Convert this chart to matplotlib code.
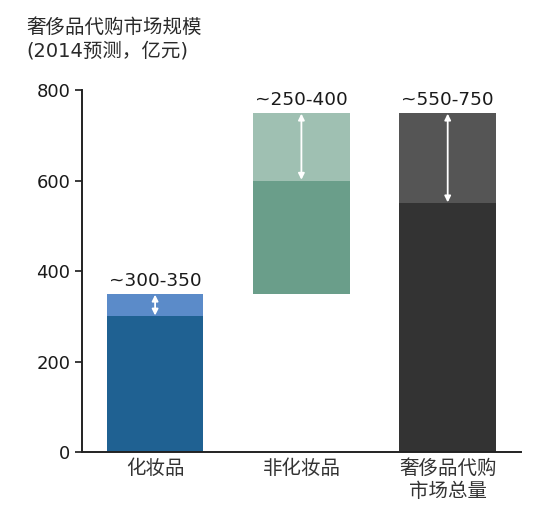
import numpy as np
import matplotlib
matplotlib.use('Agg')
from matplotlib import pyplot as plt

plt.rcParams['font.family'] = ['DejaVu Sans', 'Noto Sans CJK SC']

# market size data (2014 forecast, 100M yuan)
categories = ['化妆品', '非化妆品', '奢侈品代购\n市场总量']
base = [0, 350, 0]
low = [300, 600, 550]
high = [350, 750, 750]
range_labels = ['~300-350', '~250-400', '~550-750']
yticks = [0, 200, 400, 600, 800]

dark_colors = ['#1f6192', '#6a9e8a', '#333333']
light_colors = ['#5b8bc9', '#9fc0b2', '#555555']

fig = plt.figure(figsize=(5.5, 5.15), dpi=100)
ax = fig.add_axes([0.149, 0.122, 0.798, 0.703])

x = np.arange(len(categories))
width = 0.66
low_h = np.array(low) - np.array(base)
high_h = np.array(high) - np.array(low)
ax.bar(x, low_h, width, bottom=base, color=dark_colors)
ax.bar(x, high_h, width, bottom=low, color=light_colors)

for i in range(len(categories)):
    ax.annotate('', xy=(x[i], high[i] - 2), xytext=(x[i], low[i] + 2),
                arrowprops=dict(arrowstyle='<|-|>', color='white', lw=1.3,
                                mutation_scale=9, shrinkA=0, shrinkB=0))
    ax.annotate(range_labels[i], xy=(x[i], high[i]), xytext=(0, 3),
                textcoords='offset points', ha='center', va='bottom',
                fontsize=13.3, color='#1a1a1a')

ax.set_xlim(-0.5, 2.5)
ax.set_ylim(0, 800)
ax.set_yticks(yticks)
ax.set_xticks(x)
ax.set_xticklabels(categories, fontsize=14, color='#333333', linespacing=1.25)
ax.tick_params(axis='y', labelsize=13, length=5, width=1.2, colors='#1a1a1a')
ax.tick_params(axis='x', length=0, pad=5)
for s in ['top', 'right']:
    ax.spines[s].set_visible(False)
for s in ['left', 'bottom']:
    ax.spines[s].set_linewidth(1.4)
    ax.spines[s].set_color('#222222')

fig.text(0.048, 0.966, '奢侈品代购市场规模\n(2014预测，亿元)', fontsize=14,
         color='#2a2a2a', va='top', ha='left', linespacing=1.3,
         fontweight='medium')

fig.savefig('out.png', dpi=100)
